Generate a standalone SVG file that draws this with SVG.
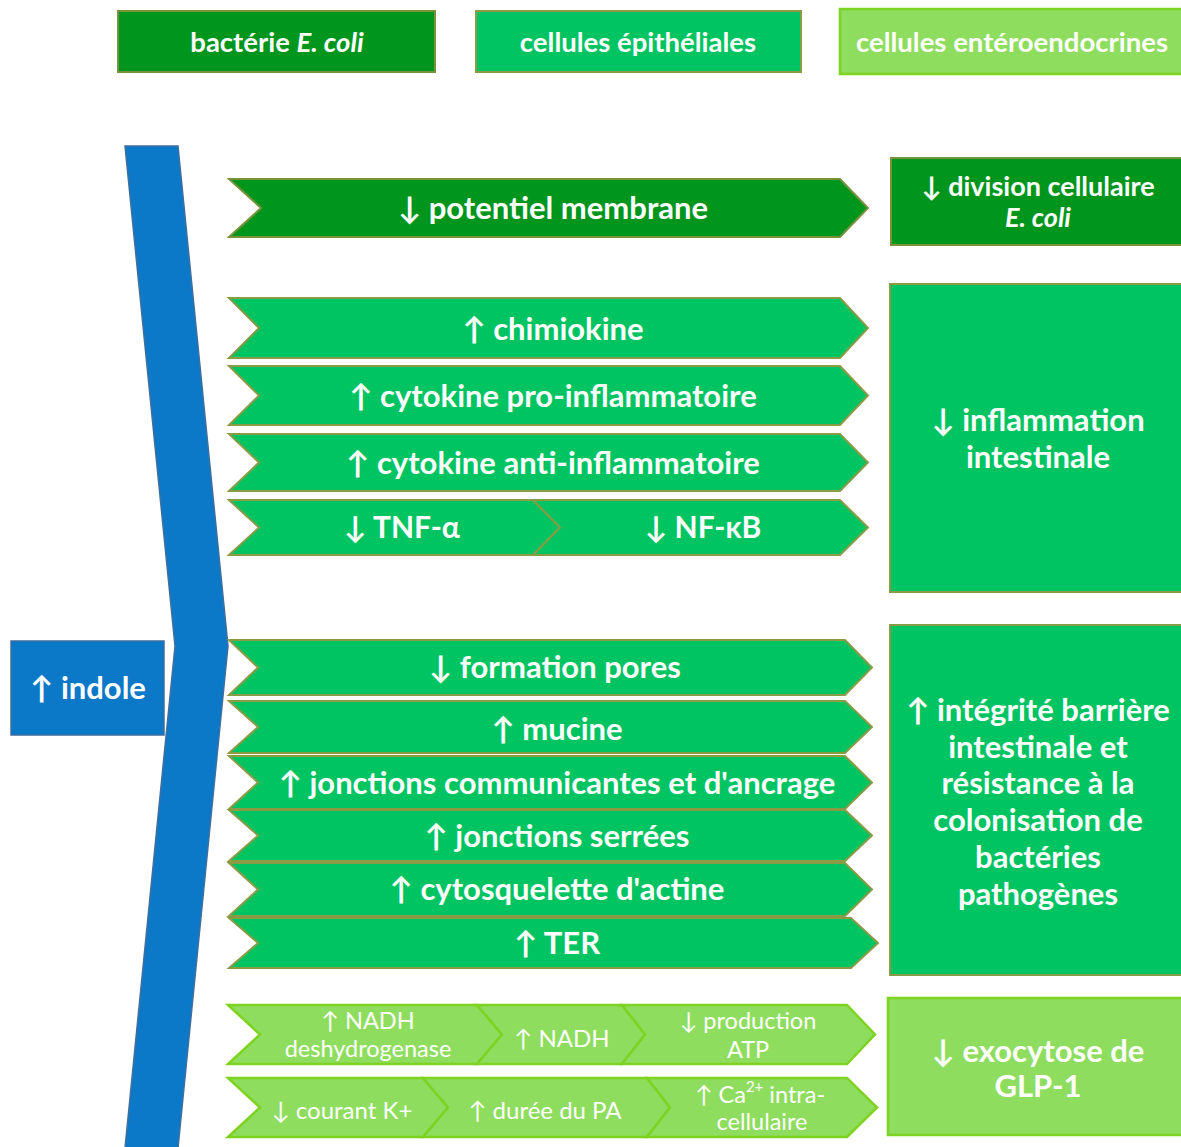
<svg xmlns="http://www.w3.org/2000/svg" width="1181" height="1147" viewBox="0 0 1181 1147">
<style>
.dk{fill:#00961E;stroke:#76923C;stroke-width:2}
.ep{fill:#00C462;stroke:#8A9B45;stroke-width:2}
.en{fill:#8EDD5E;stroke:#7ED321;stroke-width:2.5}
.bl{fill:#0B78C8;stroke:#3F6FA0;stroke-width:1.5}
text{font-family:Lato,"Open Sans","DejaVu Sans",sans-serif;fill:#fff;font-weight:bold;text-anchor:middle;dominant-baseline:central}
.lg{font-size:27.5px}
.s27{font-size:27px}
.s31{font-size:31px}
.s30{font-size:30px}
.s24{font-size:24px;font-weight:normal}
.s23{font-size:23.5px;font-weight:normal}
.it{font-style:italic}
</style>
<rect width="1181" height="1147" fill="#fff"/>

<g id="legend-ecoli"><rect class="dk" x="118" y="11" width="317" height="61"/><text class="lg" x="277" y="41">bactérie <tspan class="it">E. coli</tspan></text></g>
<g id="legend-epith"><rect class="ep" x="476" y="11" width="325" height="61"/><text class="lg" x="638" y="41">cellules épithéliales</text></g>
<g id="legend-entero"><rect class="en" x="840" y="9" width="350" height="65"/><text class="lg" x="1012" y="41">cellules entéroendocrines</text></g>

<g id="indole-chevron"><polygon class="bl" points="125,146 178,146 228,646 178,1148 125,1148 175,646"/></g>
<g id="indole"><rect class="bl" x="11" y="641" width="153" height="94"/><text class="s31" x="88" y="687">↑ indole</text></g>

<g id="connectors"></g>

<g id="potentiel"><polygon class="dk" points="229,179 840,179 868,208 840,237 229,237 261,208"/><text class="s31" x="553" y="207">↓ potentiel membrane</text></g>
<g id="division"><rect class="dk" x="891" y="158" width="300" height="87"/><text class="s27" x="1038" y="185">↓ division cellulaire</text><text class="s27 it" x="1038" y="216">E. coli</text></g>

<g id="chimiokine"><polygon class="ep" points="229,298 840,298 868,328 840,358 229,358 259,328"/><text class="s31" x="553" y="328">↑ chimiokine</text></g>
<g id="cytokine-pro"><polygon class="ep" points="229,366 840,366 868,395.5 840,425 229,425 259,395.5"/><text class="s31" x="553" y="395">↑ cytokine pro-inflammatoire</text></g>
<g id="cytokine-anti"><polygon class="ep" points="229,434 840,434 868,462.5 840,491 229,491 259,462.5"/><text class="s31" x="553" y="462">↑ cytokine anti-inflammatoire</text></g>
<g id="tnf"><polygon class="ep" points="229,500 533,500 560,527.5 533,555 229,555 259,527.5"/><text class="s30" x="402" y="526">↓ TNF-α</text></g>
<g id="nfkb"><polygon class="ep" points="533,500 840,500 868,527.5 840,555 533,555 560,527.5"/><text class="s30" x="703" y="526">↓ NF-κB</text></g>
<g id="inflammation"><rect class="ep" x="890" y="284" width="300" height="308"/><text class="s31" x="1038" y="419">↓ inflammation</text><text class="s31" x="1038" y="456">intestinale</text></g>

<g id="pores"><polygon class="ep" points="229,640 845,640 872,667.5 845,695 229,695 258,667.5"/><text class="s31" x="555" y="666">↓ formation pores</text></g>
<g id="mucine"><polygon class="ep" points="229,701 845,701 872,727 845,753 229,753 258,727"/><text class="s31" x="557" y="728">↑ mucine</text></g>
<g id="jonctions-comm"><polygon class="ep" points="229,756 845,756 872,782.5 845,809 229,809 258,782.5"/><text class="s31" x="557" y="782">↑ jonctions communicantes et d'ancrage</text></g>
<g id="jonctions-serrees"><polygon class="ep" points="229,810 845,810 872,835.5 845,861 229,861 258,835.5"/><text class="s31" x="557" y="835">↑ jonctions serrées</text></g>
<g id="cytosquelette"><polygon class="ep" points="229,863 845,863 872,889.5 845,916 229,916 258,889.5"/><text class="s31" x="557" y="888">↑ cytosquelette d'actine</text></g>
<g id="ter"><polygon class="ep" points="229,918 851,918 878,943 851,968 229,968 258,943"/><text class="s31" x="557" y="942">↑ TER</text></g>
<g id="integrite"><rect class="ep" x="890" y="625" width="300" height="350"/>
<text class="s31" x="1038" y="709">↑ intégrité barrière</text>
<text class="s31" x="1038" y="746">intestinale et</text>
<text class="s31" x="1038" y="782">résistance à la</text>
<text class="s31" x="1038" y="819">colonisation de</text>
<text class="s31" x="1038" y="856">bactéries</text>
<text class="s31" x="1038" y="893">pathogènes</text></g>

<g id="nadh-deshydrogenase"><polygon class="en" points="228,1005 477,1005 502,1034.5 477,1064 228,1064 260,1034.5"/><text class="s23" x="368" y="1020">↑ NADH</text><text class="s23" x="368" y="1048">deshydrogenase</text></g>
<g id="nadh"><polygon class="en" points="477,1005 622,1005 645,1034.5 622,1064 477,1064 502,1034.5"/><text class="s24" x="562" y="1037">↑ NADH</text></g>
<g id="atp"><polygon class="en" points="622,1005 847,1005 875,1034.5 847,1064 622,1064 645,1034.5"/><text class="s23" x="748" y="1020">↓ production</text><text class="s23" x="748" y="1049">ATP</text></g>
<g id="courant-k"><polygon class="en" points="228,1078 423,1078 448,1107.5 423,1137 228,1137 260,1107.5"/><text class="s24" x="342" y="1109">↓ courant K+</text></g>
<g id="duree-pa"><polygon class="en" points="423,1078 647,1078 670,1107.5 647,1137 423,1137 448,1107.5"/><text class="s24" x="545" y="1109">↑ durée du PA</text></g>
<g id="calcium"><polygon class="en" points="647,1078 847,1078 877,1107.5 847,1137 647,1137 670,1107.5"/><text class="s23" x="760" y="1094">↑ Ca<tspan font-size="15" dy="-8">2+</tspan><tspan dy="8"> intra-</tspan></text><text class="s23" x="762" y="1121">cellulaire</text></g>
<g id="exocytose"><rect class="en" x="888" y="998" width="300" height="137"/><text class="s31" x="1038" y="1050">↓ exocytose de</text><text class="s31" x="1038" y="1085">GLP-1</text></g>
</svg>
